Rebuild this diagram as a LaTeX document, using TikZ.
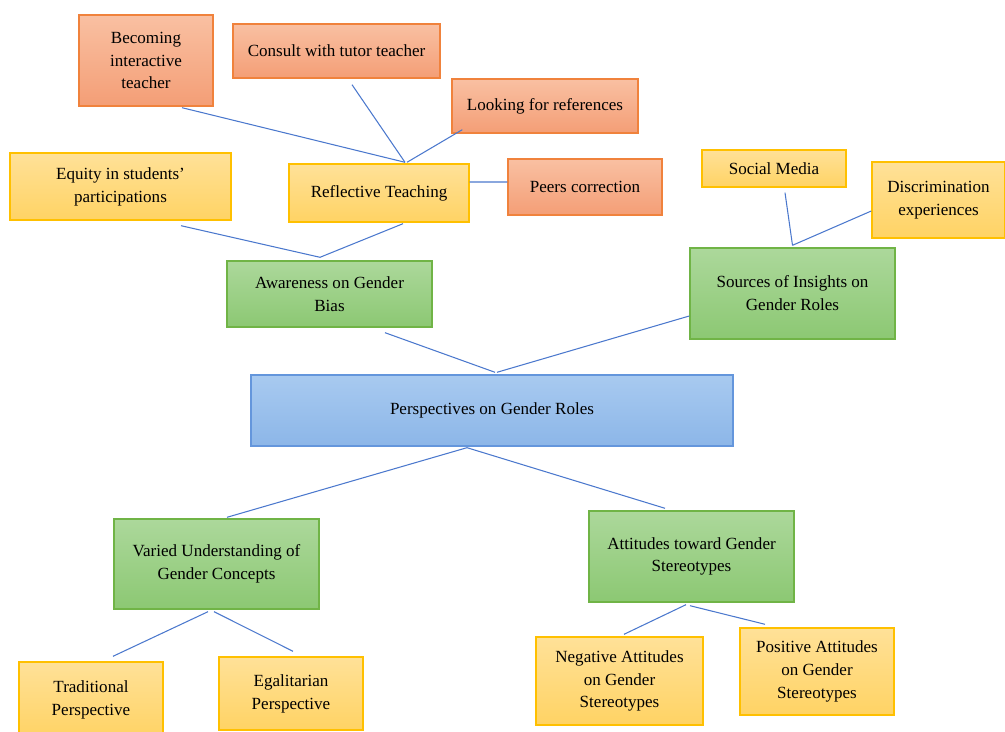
\documentclass[tikz,border=0pt]{standalone}
\usepackage{fontspec}
\setmainfont{Liberation Serif}
\usetikzlibrary{shadings}

\definecolor{orTop}{RGB}{249,192,162}
\definecolor{orBot}{RGB}{244,158,118}
\definecolor{orLine}{RGB}{240,130,60}
\definecolor{yeTop}{RGB}{255,225,152}
\definecolor{yeBot}{RGB}{255,211,100}
\definecolor{yeLine}{RGB}{255,192,0}
\definecolor{grTop}{RGB}{172,216,155}
\definecolor{grBot}{RGB}{140,200,115}
\definecolor{grLine}{RGB}{112,180,70}
\definecolor{blTop}{RGB}{168,202,240}
\definecolor{blBot}{RGB}{140,182,232}
\definecolor{blLine}{RGB}{100,150,220}
\definecolor{linkBlue}{RGB}{75,120,205}

\begin{document}
\begin{tikzpicture}[x=0.02cm,y=-0.02cm,
    box/.style={draw,rectangle,line width=0.8pt,inner sep=0pt,align=center,
        font=\fontsize{9.7}{13}\selectfont},
    orbox/.style={box,draw=orLine,top color=orTop,bottom color=orBot},
    yebox/.style={box,draw=yeLine,top color=yeTop,bottom color=yeBot},
    grbox/.style={box,draw=grLine,top color=grTop,bottom color=grBot},
    blbox/.style={box,draw=blLine,top color=blTop,bottom color=blBot},
    link/.style={draw=linkBlue,line width=0.6pt}]
    \useasboundingbox (0,0) rectangle (1005,732);

    % top: reflective teaching branch
    \node[orbox,minimum width=2.68cm,minimum height=1.82cm] (becoming) at (146,60.5) {Becoming\\interactive\\teacher};
    \node[orbox,minimum width=4.14cm,minimum height=1.08cm] (consult) at (336.5,51) {Consult with tutor teacher};
    \node[orbox,minimum width=3.72cm,minimum height=1.08cm] (looking) at (545,106) {Looking for references};
    \node[orbox,minimum width=3.08cm,minimum height=1.12cm] (peers) at (585,187) {Peers correction};
    \node[yebox,minimum width=4.42cm,minimum height=1.34cm] (equity) at (120.5,186.5) {Equity in students'\\participations};
    \node[yebox,minimum width=3.6cm,minimum height=1.16cm] (reflective) at (379,193) {Reflective Teaching};

    % top right: sources
    \node[yebox,minimum width=2.88cm,minimum height=0.74cm] (social) at (774,168.5) {Social Media};
    \node[yebox,minimum width=2.66cm,minimum height=1.52cm] (discrim) at (938.5,200) {Discrimination\\experiences};

    % middle
    \node[grbox,minimum width=4.1cm,minimum height=1.32cm] (awareness) at (329.5,294) {Awareness on Gender\\Bias};
    \node[grbox,minimum width=4.1cm,minimum height=1.82cm] (sources) at (792.5,293.5) {Sources of Insights on\\Gender Roles};
    \node[blbox,minimum width=9.64cm,minimum height=1.42cm] (center) at (492,410.5) {Perspectives on Gender Roles};

    % bottom
    \node[grbox,minimum width=4.1cm,minimum height=1.8cm] (varied) at (216.5,564) {Varied Understanding of\\Gender Concepts};
    \node[grbox,minimum width=4.1cm,minimum height=1.82cm] (attitudes) at (691.5,556.5) {Attitudes toward Gender\\Stereotypes};
    \node[yebox,minimum width=2.88cm,minimum height=1.52cm] (traditional) at (91,700) {Traditional\\Perspective};
    \node[yebox,minimum width=2.88cm,minimum height=1.46cm] (egalitarian) at (291,693.5) {Egalitarian\\Perspective};
    \node[yebox,minimum width=3.34cm,minimum height=1.76cm] (negative) at (619.5,681) {Negative Attitudes\\on Gender\\Stereotypes};
    \node[yebox,minimum width=3.08cm,minimum height=1.74cm] (positive) at (817,671.5) {Positive Attitudes\\on Gender\\Stereotypes};

    % connectors
    \draw[link] ([xshift=0.72cm,yshift=-0.02cm]becoming.south) -- ([xshift=0.52cm,yshift=0.02cm]reflective.north);
    \draw[link] ([xshift=0.31cm,yshift=-0.12cm]consult.south) -- ([xshift=0.52cm,yshift=0.02cm]reflective.north);
    \draw[link] ([xshift=0.22cm,yshift=0.08cm]looking.south west) -- ([xshift=0.56cm,yshift=0.02cm]reflective.north);
    \draw[link] ([yshift=0.22cm]reflective.east) -- ([yshift=0.1cm]peers.west);
    \draw[link] ([xshift=1.21cm,yshift=-0.1cm]equity.south) -- ([xshift=-0.19cm,yshift=0.06cm]awareness.north);
    \draw[link] ([xshift=0.48cm,yshift=-0.02cm]reflective.south) -- ([xshift=-0.19cm,yshift=0.06cm]awareness.north);
    \draw[link] ([xshift=0.22cm,yshift=-0.1cm]social.south) -- ([yshift=0.04cm]sources.north);
    \draw[link] ([yshift=-0.22cm]discrim.west) -- ([yshift=0.04cm]sources.north);
    \draw[link] ([xshift=1.11cm,yshift=-0.1cm]awareness.south) -- ([xshift=0.06cm,yshift=0.04cm]center.north);
    \draw[link] ([yshift=-0.45cm]sources.west) -- ([xshift=0.1cm,yshift=0.04cm]center.north);
    \draw[link] ([xshift=-0.5cm,yshift=-0.02cm]center.south) -- ([xshift=0.21cm,yshift=0.02cm]varied.north);
    \draw[link] ([xshift=-0.5cm,yshift=-0.02cm]center.south) -- ([xshift=-0.53cm,yshift=0.04cm]attitudes.north);
    \draw[link] ([xshift=-0.17cm,yshift=-0.04cm]varied.south) -- ([xshift=0.44cm,yshift=0.1cm]traditional.north);
    \draw[link] ([xshift=-0.05cm,yshift=-0.04cm]varied.south) -- ([xshift=0.04cm,yshift=0.1cm]egalitarian.north);
    \draw[link] ([xshift=-0.11cm,yshift=-0.04cm]attitudes.south) -- ([xshift=0.09cm,yshift=0.04cm]negative.north);
    \draw[link] ([xshift=-0.03cm,yshift=-0.06cm]attitudes.south) -- ([xshift=-1.04cm,yshift=0.06cm]positive.north);
\end{tikzpicture}
\end{document}
